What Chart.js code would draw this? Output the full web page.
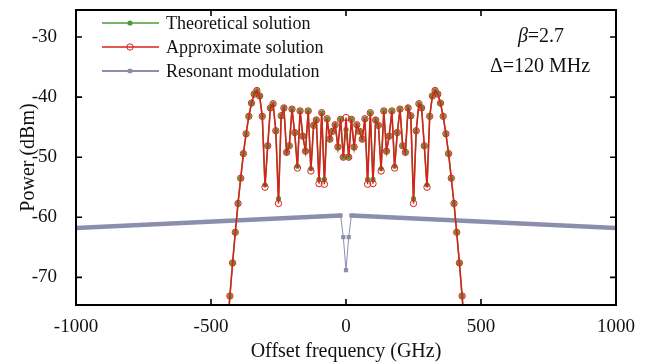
<!DOCTYPE html>
<html>
<head>
<meta charset="utf-8">
<script src="https://cdn.jsdelivr.net/npm/chart.js@4/dist/chart.umd.min.js"></script>
<style>
  html, body { margin: 0; padding: 0; background: #fff; }
  #spectrum { display: block; }
</style>
</head>
<body>
<canvas id="spectrum" width="652" height="364"></canvas>
<script>
// offset frequency of each sideband (GHz)
const sidebandFreq = [
  -440, -430, -420, -410, -400, -390, -380, -370, -360, -350, -340, -330, -320, -310, -300,
  -290, -280, -270, -260, -250, -240, -230, -220, -210, -200, -190, -180, -170, -160, -150,
  -140, -130, -120, -110, -100, -90, -80, -70, -60, -50, -40, -30, -20, -10, 0,
  10, 20, 30, 40, 50, 60, 70, 80, 90, 100, 110, 120, 130, 140, 150,
  160, 170, 180, 190, 200, 210, 220, 230, 240, 250, 260, 270, 280, 290, 300,
  310, 320, 330, 340, 350, 360, 370, 380, 390, 400, 410, 420, 430, 440
];
// power (dBm), theoretical solution
const theoryPower = [
  -79.0, -73.1, -67.6, -62.5, -57.7, -53.5, -49.4, -46.1, -43.2, -41.0, -39.5, -38.9, -39.8, -43.2, -54.6,
  -48.1, -41.8, -41.1, -45.6, -56.9, -43.1, -41.8, -49.2, -48.1, -42.0, -45.9, -51.5, -42.3, -46.5, -49.0,
  -42.3, -51.9, -44.7, -43.8, -53.7, -42.6, -53.7, -43.6, -47.0, -45.7, -44.6, -48.3, -43.7, -50.0, -45.4,
  -50.0, -43.7, -48.3, -44.6, -45.7, -47.0, -43.6, -53.7, -42.6, -53.7, -43.8, -44.7, -51.9, -42.3, -49.0,
  -46.5, -42.3, -51.5, -45.9, -42.0, -48.1, -49.2, -41.8, -43.1, -56.9, -45.6, -41.1, -41.8, -48.1, -54.6,
  -43.2, -39.8, -38.9, -39.5, -41.0, -43.2, -46.1, -49.4, -53.5, -57.7, -62.5, -67.6, -73.1, -79.0
];
// power (dBm), approximate solution
const approxPower = [
  -79.0, -73.1, -67.6, -62.5, -57.7, -53.5, -49.4, -46.1, -43.2, -41.0, -39.5, -38.9, -39.8, -43.2, -55.0,
  -48.1, -41.8, -41.1, -45.6, -57.7, -43.1, -41.8, -49.2, -48.1, -42.0, -45.9, -51.8, -42.3, -46.5, -49.0,
  -42.3, -52.3, -44.7, -43.8, -54.4, -42.6, -54.5, -43.6, -47.0, -45.7, -44.6, -48.3, -43.7, -50.0, -43.4,
  -50.0, -43.7, -48.3, -44.6, -45.7, -47.0, -43.6, -54.5, -42.6, -54.4, -43.8, -44.7, -52.3, -42.3, -49.0,
  -46.5, -42.3, -51.8, -45.9, -42.0, -48.1, -49.2, -41.8, -43.1, -57.7, -45.6, -41.1, -41.8, -48.1, -55.0,
  -43.2, -39.8, -38.9, -39.5, -41.0, -43.2, -46.1, -49.4, -53.5, -57.7, -62.5, -67.6, -73.1, -79.0
];
// resonant modulation
const resonantFreq = [-1000, -20, -10, 0, 10, 20, 1000];
const resonantPower = [-61.8, -59.7, -63.3, -68.8, -63.3, -59.7, -61.8];

const xTicks = [-1000, -500, 0, 500, 1000];
const yTicks = [-70, -60, -50, -40, -30];

const GREEN = '#4f9a35';
const RED = '#d9201c';
const GRAY = '#8c8eae';
const SERIF = "'Liberation Serif', 'DejaVu Serif', serif";

function pairs(xs, ys) {
  let out = [];
  for (let i = 0; i < xs.length; i++)
    out.push({ x: xs[i], y: ys[i] });
  return out;
}

const legendItems = [
  { text: 'Theoretical solution', color: GREEN, marker: 'dot' },
  { text: 'Approximate solution', color: RED, marker: 'ring' },
  { text: 'Resonant modulation', color: GRAY, marker: 'square' }
];

function drawMarker(ctx, kind, color, x, y)
{
  ctx.beginPath();
  if (kind == 'dot') {
    ctx.fillStyle = color;
    ctx.arc(x, y, 2.6, 0, Math.PI * 2);
    ctx.fill();
  } else if (kind == 'ring') {
    ctx.strokeStyle = color;
    ctx.lineWidth = 1;
    ctx.arc(x, y, 3.2, 0, Math.PI * 2);
    ctx.stroke();
  } else {
    ctx.fillStyle = color;
    ctx.fillRect(x - 2.2, y - 2.2, 4.4, 4.4);
  }
}

const framePlugin = {
  id: 'frame',
  afterDraw(chart) {
    const { ctx, chartArea: a, scales } = chart;
    ctx.save();
    ctx.strokeStyle = '#000';
    ctx.lineWidth = 2;
    ctx.strokeRect(a.left, a.top, a.right - a.left, a.bottom - a.top);
    ctx.lineWidth = 1.6;
    ctx.beginPath();
    for (let v of xTicks) {
      const px = scales.x.getPixelForValue(v);
      ctx.moveTo(px, a.bottom); ctx.lineTo(px, a.bottom - 6);
      ctx.moveTo(px, a.top); ctx.lineTo(px, a.top + 6);
    }
    for (let v of yTicks) {
      const py = scales.y.getPixelForValue(v);
      ctx.moveTo(a.left, py); ctx.lineTo(a.left + 6, py);
      ctx.moveTo(a.right, py); ctx.lineTo(a.right - 6, py);
    }
    ctx.stroke();

    // legend
    ctx.font = '18px ' + SERIF;
    ctx.textBaseline = 'middle';
    ctx.textAlign = 'left';
    legendItems.forEach((item, i) => {
      const y = 23 + i * 24;
      ctx.strokeStyle = item.color;
      ctx.lineWidth = item.marker == 'square' ? 2.2 : 1.6;
      ctx.beginPath();
      ctx.moveTo(102, y); ctx.lineTo(159, y);
      ctx.stroke();
      drawMarker(ctx, item.marker, item.color, 130, y);
      ctx.fillStyle = '#111';
      ctx.fillText(item.text, 166, y + 1);
    });

    // parameters
    ctx.font = 'italic 20px ' + SERIF;
    const betaW = ctx.measureText('\u03b2').width;
    ctx.font = '20px ' + SERIF;
    const restW = ctx.measureText('=2.7').width;
    let bx = 541 - (betaW + restW) / 2;
    ctx.font = 'italic 20px ' + SERIF;
    ctx.fillText('\u03b2', bx, 37);
    ctx.font = '20px ' + SERIF;
    ctx.fillText('=2.7', bx + betaW, 37);
    ctx.textAlign = 'center';
    ctx.fillText('\u0394=120 MHz', 540, 67);
    ctx.restore();
  }
};

new Chart(document.getElementById('spectrum'), {
  type: 'line',
  data: {
    datasets: [
      {
        label: 'Approximate solution',
        data: pairs(sidebandFreq, approxPower),
        borderColor: RED,
        borderWidth: 1.5,
        pointRadius: 3.2,
        pointBorderWidth: 1,
        pointBorderColor: RED,
        pointBackgroundColor: 'rgba(0,0,0,0)',
        order: 0
      },
      {
        label: 'Theoretical solution',
        data: pairs(sidebandFreq, theoryPower),
        borderColor: GREEN,
        borderWidth: 1.5,
        pointRadius: 2.6,
        pointBorderWidth: 0,
        pointBackgroundColor: GREEN,
        order: 1
      },
      {
        label: 'Resonant modulation',
        data: pairs(resonantFreq, resonantPower),
        borderColor: GRAY,
        borderWidth: 1,
        segment: {
          borderWidth: c => (Math.abs(c.p0.parsed.x) >= 20 && Math.abs(c.p1.parsed.x) >= 20) ? 4.5 : 1
        },
        pointStyle: 'rect',
        pointRadius: 3,
        pointBorderWidth: 0,
        pointBackgroundColor: GRAY,
        order: 2
      }
    ]
  },
  options: {
    responsive: false,
    animation: false,
    devicePixelRatio: 1,
    layout: { padding: { top: 10, right: 36, left: 0, bottom: 0 } },
    plugins: { legend: { display: false }, tooltip: { enabled: false } },
    scales: {
      x: {
        type: 'linear',
        min: -1000, max: 1000,
        afterFit: s => { s.height = 59; s.paddingLeft = 0; s.paddingRight = 0; },
        afterBuildTicks: s => { s.ticks = xTicks.map(v => ({ value: v })); },
        grid: { display: false },
        border: { display: false },
        ticks: { color: '#111', font: { family: SERIF, size: 19 }, padding: 3, maxRotation: 0, callback: v => String(v) },
        title: { display: true, text: 'Offset frequency (GHz)', color: '#111', font: { family: SERIF, size: 20 }, padding: 0 }
      },
      y: {
        min: -74.6, max: -25.5,
        afterFit: s => { s.width = 76; s.paddingTop = 0; s.paddingBottom = 0; },
        afterBuildTicks: s => { s.ticks = yTicks.map(v => ({ value: v })); },
        grid: { display: false },
        border: { display: false },
        ticks: { color: '#111', font: { family: SERIF, size: 19 }, padding: 11, callback: v => String(v) },
        title: { display: true, text: 'Power (dBm)', color: '#111', font: { family: SERIF, size: 20 }, padding: 17 }
      }
    }
  },
  plugins: [framePlugin]
});
</script>
</body>
</html>
